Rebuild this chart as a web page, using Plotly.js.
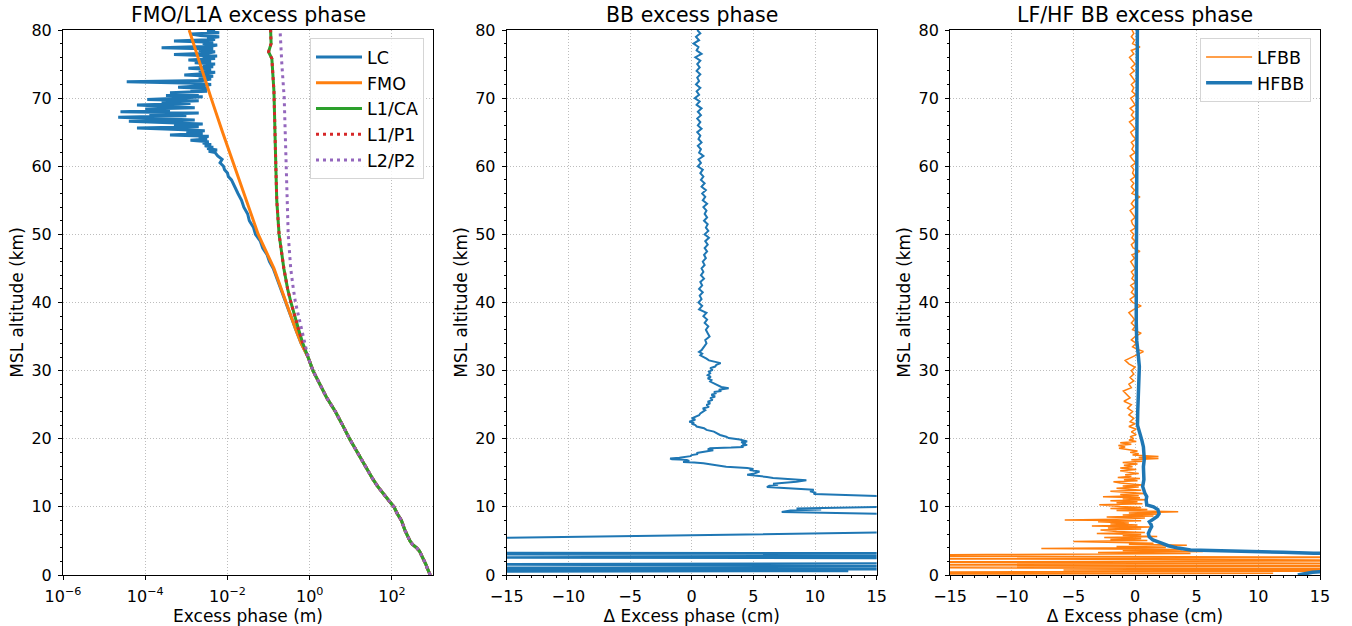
<!DOCTYPE html>
<html>
<head>
<meta charset="utf-8">
<script src="https://cdn.plot.ly/plotly-3.0.1.min.js"></script>
<style>html,body{margin:0;padding:0;background:#fff;}#chart{width:1352px;height:626px;}</style>
</head>
<body>
<div id="chart"></div>
<script>
// ---------- Panel 1: FMO/L1A excess phase (m) ----------
// common lower-atmosphere profile (all signals coincide below ~32 km)
const altLow = [0,0.5,1,1.5,2,2.5,3,3.5,4,4.5,5,5.5,6,6.5,7,8,9,10,11,12,13,14,15,16,18,20,22,24,26,28,30,32];
const phaseLow = [851,776,724,676,617,575,525,468,398,316,275,245,229,209,195,170,135,112,82,60,45,35,28,22,14,9.3,6.3,4.2,2.6,1.78,1.2,0.91];

const fmoAltHi = [34,36,38,40,42,45,50,55,60,65,70,75,80];
const fmoValHi = [0.62,0.46,0.35,0.27,0.21,0.135,0.056,0.0285,0.0145,0.0076,0.0040,0.00214,0.00117];

const l1caAltHi = [34,36,38,40,42,45,50,55,60,65,70,71,75.8,76.8,78,80];
const l1caValHi = [0.68,0.54,0.43,0.35,0.29,0.235,0.18,0.158,0.15,0.145,0.14,0.135,0.12,0.10,0.115,0.112];

const l1p1AltHi = [34,36,38,40,42,45,50,55,60,65,70,71,75.8,76.8,78,80];
const l1p1ValHi = [0.68,0.54,0.43,0.35,0.29,0.235,0.18,0.158,0.15,0.145,0.14,0.135,0.12,0.10,0.115,0.112];

const l2p2AltHi = [34,36,38,40,42,45,50,55,60,65,70,75,80];
const l2p2ValHi = [0.76,0.65,0.54,0.45,0.40,0.345,0.30,0.285,0.275,0.26,0.24,0.21,0.19];

const lcAltMid = [34,36,38,40,42,44,45,46,47,48,49,50,51,52,53,54,55,56,57,58,58.5,59,59.5,60,60.5,61,61.5];
const lcValMid = [0.62,0.46,0.35,0.26,0.20,0.15,0.13,0.105,0.092,0.072,0.063,0.048,0.043,0.034,0.031,0.025,0.022,0.018,0.0150,0.0125,0.0105,0.0100,0.0085,0.0080,0.0066,0.0074,0.0058];

const lcAltHi = [62.0,62.2,62.4,62.6,62.8,63.0,63.2,63.4,63.6,63.8,
  64.0,64.2,64.4,64.6,64.8,65.0,65.2,65.4,65.6,65.8,
  66.0,66.2,66.4,66.6,66.8,67.0,67.2,67.4,67.6,67.8,
  68.0,68.2,68.4,68.6,68.8,69.0,69.2,69.4,69.6,69.8,
  70.0,70.2,70.4,70.6,70.8,71.0,71.2,71.4,71.6,71.8,
  72.0,72.2,72.4,72.6,72.8,73.0,73.2,73.4,73.6,73.8,
  74.0,74.2,74.4,74.6,74.8,75.0,75.2,75.4,75.6,75.8,
  76.0,76.2,76.4,76.6,76.8,77.0,77.2,77.4,77.6,77.8,
  78.0,78.2,78.4,78.6,78.8,79.0,79.2,79.4,79.6,79.8,80.0];
const lcValHi = [0.0050,0.0035,0.0056,0.0032,0.0045,0.0028,0.0040,0.0025,0.0035,0.00126,
  0.0032,0.0020,0.0035,0.0004,0.0025,0.0010,0.0028,0.00063,0.000063,0.0020,
  0.0005,0.0025,0.00025,0.00004,0.0016,0.00016,0.000022,0.0010,0.000126,0.0020,
  0.000025,0.0004,0.0001,0.0016,0.0002,0.000063,0.00126,0.00025,0.0020,0.000112,
  0.00063,0.0025,0.00032,0.0020,0.0004,0.0032,0.00126,0.0035,0.00063,0.0025,
  0.0040,0.0016,0.0000355,0.0025,0.0040,0.0020,0.0045,0.00089,0.0032,0.0050,
  0.0020,0.0040,0.00112,0.0045,0.0025,0.0050,0.0016,0.0040,0.00112,0.0050,
  0.0025,0.0056,0.0005,0.0032,0.0050,0.0020,0.0045,0.00025,0.0040,0.0056,
  0.0025,0.0045,0.0005,0.0050,0.0032,0.0063,0.0022,0.00126,0.0063,0.0032,0.0050];

// ---------- Panel 2: BB excess phase difference (cm) ----------
const bbAlt = [0.45,0.55,0.70,0.85,1.05,1.30,1.55,1.80,2.45,2.55,2.80,3.10,3.20,3.30,4.50,5.35,6.35,8.50,8.90,9.25,9.45,9.60,9.75,
  10.10,11.40,11.90,12.10,12.30,12.50,12.70,12.90,13.10,13.25,13.40,13.55,13.70,13.90,14.10,14.25,14.40,14.55,14.70,14.85,15.00,15.20,15.40,15.55,15.70,15.80,15.90,
  16.10,16.25,16.40,16.50,16.60,16.75,16.90,17.00,17.10,17.20,17.30,17.45,17.60,17.75,17.90,18.10,18.30,18.45,18.60,18.70,
  18.80,18.95,19.10,19.25,19.40,19.50,19.60,19.75,19.90,20.10,20.30,20.55,20.80,21.05,21.30,21.55,21.80,22.00,22.20,22.35,
  22.50,22.65,22.80,23.00,23.20,23.45,23.70,23.95,24.20,24.45,24.70,24.95,25.20,25.45,25.70,25.95,26.20,26.45,26.70,26.85,
  27.00,27.20,27.40,27.60,27.80,28.00,28.20,28.40,28.60,28.85,29.10,29.35,29.60,29.85,30.10,30.35,30.60,30.85,31.10,31.30,
  31.50,31.75,32.00,32.25,32.50,32.75,
  33.0,33.5,34.0,34.5,35.0,35.5,36.0,36.5,37.0,37.5,38.0,38.5,39.0,39.5,40.0,40.5,41.0,41.5,42.0,42.5,
  43.0,43.5,44.0,44.5,45.0,45.5,46.0,46.5,47.0,47.5,48.0,48.5,49.0,49.5,50.0,50.5,51.0,51.5,52.0,52.5,
  53.0,53.5,54.0,54.5,55.0,55.5,56.0,56.5,57.0,57.5,58.0,58.5,59.0,59.5,60.0,60.5,61.0,61.5,62.0,62.5,
  63.0,63.5,64.0,64.5,65.0,65.5,66.0,66.5,67.0,67.5,68.0,68.5,69.0,69.5,70.0,70.5,71.0,71.5,72.0,72.5,
  73.0,73.5,74.0,74.5,75.0,75.5,76.0,76.5,77.0,77.5,78.0,78.5,79.0,79.5,80.0];
const bbVal = [-30,12.7,-30,30,-30,30,-30,30,30,-30,30,-30,30,-30,-30,-20,20,25,18,7.3,8.0,10.5,8.5,
  18,18,9.9,10.0,9.6,9.9,7.7,6.1,6.3,7.0,6.6,7.8,8.5,9.3,7.4,6.6,6.1,5.0,4.5,5.0,5.2,5.5,4.7,5.0,4.5,3.5,2.8,
  2.0,1.5,0.95,0.2,-0.7,-0.2,-0.4,-1.6,-1.75,-1.0,-0.7,-0.1,0.0,0.5,0.4,1.2,1.75,1.3,1.5,3.2,
  4.2,4.0,4.5,4.1,4.4,4.0,4.5,4.2,3.9,3.0,2.8,2.3,2.0,1.8,1.2,1.0,0.4,0.3,0.0,0.2,
  -0.2,0.1,0.3,0.0,0.3,0.6,0.7,0.9,1.1,0.9,1.4,1.2,1.5,1.3,1.7,1.5,1.9,1.6,2.0,1.8,
  2.4,2.2,3.0,2.4,2.2,2.0,1.8,1.5,1.6,1.3,1.55,1.3,1.5,1.4,1.7,1.5,1.9,2.0,2.35,1.8,
  1.4,1.2,1.0,0.7,0.85,0.6,
  0.8,1.0,1.2,1.1,1.45,1.3,1.15,1.35,1.05,1.25,0.95,1.2,0.6,0.85,0.55,0.8,0.65,0.9,0.6,0.85,
  0.7,1.0,0.75,0.95,0.8,1.05,0.9,1.15,1.0,1.25,1.05,1.3,1.1,1.4,1.05,1.35,1.15,1.3,1.0,1.25,
  1.05,1.2,0.95,1.25,0.9,1.1,0.85,1.15,0.8,1.05,0.75,0.95,0.7,0.9,0.5,0.75,0.55,0.95,0.6,0.75,
  0.5,0.8,0.55,0.7,0.45,0.8,0.5,0.7,0.45,0.75,0.5,0.8,0.4,0.65,0.25,0.6,0.4,0.7,0.35,0.6,
  0.45,0.7,0.4,0.65,0.45,0.7,0.3,0.8,0.4,0.55,0.15,0.6,0.35,0.7,0.45];

// ---------- Panel 3: LF/HF BB excess phase difference (cm) ----------
const lfAlt = [0.10,0.25,0.40,0.60,0.75,0.90,1.10,1.30,1.50,1.70,1.90,2.10,2.25,2.40,2.60,2.80,
  3.00,3.15,3.30,3.45,3.60,3.75,3.90,4.05,4.20,4.35,4.50,4.65,4.90,5.05,5.20,
  5.35,5.50,5.65,5.80,5.95,6.10,6.25,6.40,6.60,6.75,6.90,7.05,7.20,7.35,7.50,7.65,7.80,7.95,8.07,8.20,
  8.35,8.50,8.65,8.80,8.95,9.10,9.30,9.45,9.60,9.75,9.90,10.05,10.30,10.45,10.60,10.75,10.90,11.05,11.20,11.35,
  11.50,11.65,11.80,11.95,12.10,12.30,12.45,12.60,12.75,12.90,13.05,13.20,13.35,13.50,13.70,13.85,14.00,14.15,14.30,14.50,
  14.70,14.90,15.10,15.30,15.50,15.70,15.90,16.10,16.30,16.50,16.70,16.90,17.10,17.25,17.40,17.60,17.80,18.00,18.20,18.40,
  18.60,18.80,19.00,19.20,19.40,19.60,19.80,20.00,20.30,20.60,21.00,21.40,21.80,22.20,22.50,23.00,23.50,24.00,24.50,25.00,
  25.50,26.00,26.50,27.00,27.50,28.00,28.50,29.00,29.50,30.00,30.50,31.00,31.50,32.00,32.50,32.80,33.20,33.50,34.00,34.50,
  35.0,35.5,36.0,36.5,37.0,37.5,38.0,38.5,39.0,39.5,40.0,40.5,41.0,41.5,42.0,42.5,43.0,43.5,44.0,44.5,
  45.0,45.5,46.0,46.5,47.0,47.5,48.0,48.5,49.0,49.5,50.0,50.5,51.0,51.5,52.0,52.5,53.0,53.5,54.0,54.5,
  55.0,55.5,56.0,56.5,57.0,57.5,58.0,58.5,59.0,59.5,60.0,60.5,61.0,61.5,62.0,62.5,63.0,63.5,64.0,64.5,
  65.0,65.5,66.0,66.5,67.0,67.5,68.0,68.5,69.0,69.5,70.0,70.5,71.0,71.5,72.0,72.5,73.0,73.5,74.0,74.5,
  75.0,75.5,76.0,76.5,77.0,77.5,78.0,78.5,79.0,79.5,80.0];
const lfVal = [-25,11.2,-25,25,-5.8,25,-25,25,-25,25,-25,25,8.5,-25,25,-25,
  -12,4.5,-3,5.5,-1,3.8,-7.6,2.5,-1.5,4.2,-0.5,1.5,-5.0,1.0,-2.0,
  0.5,-2.5,1.8,-1.0,0.5,-3.1,0.8,-1.5,-2.8,0.5,-2.2,1.2,-3.5,0.2,-2.0,-0.5,-3.0,0.5,-5.7,-1.5,
  0.8,-2.3,1.5,-1.0,2.0,-0.5,3.5,-1.5,1.0,-2.0,0.5,-1.2,-2.9,0.6,-1.5,0.2,-2.0,0.9,-1.0,0.4,
  -2.6,0.3,-1.2,0.8,-0.8,-2.0,0.5,-0.5,-1.5,0.3,-1.0,0.6,-0.6,-1.2,-1.75,0.2,-0.9,0.4,-1.4,-0.3,
  -0.8,0.3,-0.6,-1.2,0.1,-1.2,-0.2,-0.9,0.2,-1.0,0.6,-0.3,1.9,0.3,1.9,-0.2,0.3,-0.4,0.2,-0.6,
  -1.3,-0.8,-1.35,-0.3,-1.2,0.1,-0.5,-0.1,-0.4,0.1,-0.3,0.1,-0.5,0.0,-0.4,-0.1,-0.5,-0.2,-0.6,-0.3,
  -0.9,-0.4,-0.7,-0.95,-0.3,-0.5,-0.1,-0.4,-0.1,-0.3,0.0,-0.5,-0.8,-0.2,0.3,0.68,0.1,-0.2,0.1,-0.3,
  0.0,0.5,-0.2,0.0,-0.3,-0.05,-0.25,-0.5,-0.1,0.5,-0.2,-0.4,0.0,-0.3,-0.1,-0.35,0.05,-0.25,-0.1,-0.3,
  0.0,-0.2,-0.35,-0.05,-0.25,0.4,-0.15,-0.3,0.0,-0.25,-0.1,-0.35,0.05,-0.2,-0.3,0.0,-0.2,-0.4,-0.05,-0.3,
  -0.1,0.4,-0.25,-0.05,-0.3,-0.1,-0.35,0.0,-0.2,-0.1,-0.3,0.05,-0.2,-0.4,0.0,-0.25,-0.1,-0.3,0.05,-0.2,
  -0.35,0.0,-0.2,-0.45,-0.05,-0.3,-0.1,-0.4,0.0,-0.2,-0.35,0.05,-0.25,-0.1,-0.3,0.0,-0.2,-0.4,-0.05,-0.3,
  0.0,-0.25,-0.45,-0.1,-0.3,0.4,-0.2,-0.05,-0.3,-0.1,-0.25];

const hfAlt = [0.0,0.2,0.4,0.55,0.8,2.8,3.1,3.2,3.33,3.45,3.57,3.67,3.95,4.3,4.7,5.14,5.6,6.1,6.6,7.1,
  7.4,7.8,8.1,8.6,9.0,9.6,10.0,10.3,11.0,11.5,12.0,13.0,14.0,15.0,15.9,17.0,17.9,18.8,19.8,20.8,
  22.0,24.0,25.7,28.0,30.6,32.5,34.4,37.0,40.4,45,50,55,60,65,70,75,80];
const hfVal = [13.2,13.9,14.4,15.5,30,30,15.5,14.5,12.0,10.0,8.0,4.5,3.5,2.7,2.1,1.45,1.15,1.08,1.2,1.35,
  1.3,1.16,1.4,1.8,1.95,1.85,1.5,0.95,0.9,0.95,0.8,0.62,0.72,0.7,0.68,0.75,0.73,0.68,0.55,0.4,
  0.2,0.22,0.27,0.33,0.35,0.25,0.14,0.1,0.08,0.1,0.12,0.14,0.15,0.16,0.17,0.18,0.19];

const C = {blue:'#1f77b4', orange:'#ff7f0e', green:'#2ca02c', red:'#d62728', purple:'#9467bd'};
const FONT = 'DejaVu Sans, Liberation Sans, sans-serif';

const traces = [
  {x: phaseLow.concat(lcValMid, lcValHi), y: altLow.concat(lcAltMid, lcAltHi), name:'LC', mode:'lines',
   line:{color:C.blue, width:3}, xaxis:'x', yaxis:'y', legend:'legend'},
  {x: phaseLow.concat(fmoValHi), y: altLow.concat(fmoAltHi), name:'FMO', mode:'lines',
   line:{color:C.orange, width:3}, xaxis:'x', yaxis:'y', legend:'legend'},
  {x: phaseLow.concat(l1caValHi), y: altLow.concat(l1caAltHi), name:'L1/CA', mode:'lines',
   line:{color:C.green, width:3}, xaxis:'x', yaxis:'y', legend:'legend'},
  {x: phaseLow.concat(l1p1ValHi), y: altLow.concat(l1p1AltHi), name:'L1/P1', mode:'lines',
   line:{color:C.red, width:3, dash:'3px,4px'}, xaxis:'x', yaxis:'y', legend:'legend'},
  {x: phaseLow.concat(l2p2ValHi), y: altLow.concat(l2p2AltHi), name:'L2/P2', mode:'lines',
   line:{color:C.purple, width:3, dash:'3px,4px'}, xaxis:'x', yaxis:'y', legend:'legend'},
  {x: bbVal, y: bbAlt, name:'BB', mode:'lines', showlegend:false,
   line:{color:C.blue, width:2}, xaxis:'x2', yaxis:'y2'},
  {x: lfVal, y: lfAlt, name:'LFBB', mode:'lines',
   line:{color:C.orange, width:1.5}, xaxis:'x3', yaxis:'y3', legend:'legend2'},
  {x: hfVal, y: hfAlt, name:'HFBB', mode:'lines',
   line:{color:C.blue, width:3.5}, xaxis:'x3', yaxis:'y3', legend:'legend2'}
];

const tickFont = {family:FONT, size:16, color:'#000'};
const titleFont = {family:FONT, size:17, color:'#000'};
const common = {
  showline:true, linecolor:'#000', linewidth:1, mirror:true,
  ticks:'outside', ticklen:4, tickwidth:1, tickcolor:'#000',
  showgrid:true, gridcolor:'#bdbdbd', griddash:'1px,2px', gridwidth:1,
  zeroline:false, tickfont:tickFont, ticklabelstandoff:3
};
function yax(anchor){
  return Object.assign({}, common, {
    anchor:anchor, domain:[0,1], range:[0,80], dtick:10, tick0:0, fixedrange:true,
    minor:{dtick:2, ticklen:2, ticks:'outside', tickcolor:'#000', showgrid:false},
    title:{text:'MSL altitude (km)', font:titleFont, standoff:3}
  });
}
function xlin(anchor, dom){
  return Object.assign({}, common, {
    anchor:anchor, domain:dom, range:[-15,15], dtick:5, tick0:0,
    minor:{dtick:1, ticklen:2, ticks:'outside', tickcolor:'#000', showgrid:false},
    title:{text:'Δ Excess phase (cm)', font:titleFont, standoff:6}
  });
}
const logTicks = [1e-6,1e-4,1e-2,1,100];
const logText = ['10<sup>−6</sup>','10<sup>−4</sup>','10<sup>−2</sup>','10<sup>0</sup>','10<sup>2</sup>'];

const legendStyle = {xanchor:'left', yanchor:'top', bgcolor:'rgba(255,255,255,0.8)',
  bordercolor:'#d5d5d5', borderwidth:1, itemwidth:46, font:{family:FONT, size:17.5, color:'#000'}};

const layout = {
  width:1352, height:626,
  margin:{l:63, r:32, t:30, b:51},
  paper_bgcolor:'#fff', plot_bgcolor:'#fff',
  font:{family:FONT, color:'#000'},
  showlegend:true,
  xaxis: Object.assign({}, common, {
    anchor:'y', domain:[0,0.2944], type:'log', range:[-6,3],
    tickmode:'array', tickvals:logTicks, ticktext:logText,
    title:{text:'Excess phase (m)', font:titleFont, standoff:6}
  }),
  yaxis: yax('x'),
  xaxis2: xlin('y2',[0.3530,0.6473]),
  yaxis2: yax('x2'),
  xaxis3: xlin('y3',[0.7057,1]),
  yaxis3: yax('x3'),
  legend: Object.assign({x:0.1965, y:0.985}, legendStyle),
  legend2: Object.assign({x:0.9046, y:0.985}, legendStyle),
  annotations:[
    {text:'FMO/L1A excess phase', xref:'x domain', yref:'y domain', x:0.5, y:1, xanchor:'center', yanchor:'middle', yshift:15, showarrow:false, font:{family:FONT, size:20.5, color:'#000'}},
    {text:'BB excess phase', xref:'x2 domain', yref:'y2 domain', x:0.5, y:1, xanchor:'center', yanchor:'middle', yshift:15, showarrow:false, font:{family:FONT, size:20.5, color:'#000'}},
    {text:'LF/HF BB excess phase', xref:'x3 domain', yref:'y3 domain', x:0.5, y:1, xanchor:'center', yanchor:'middle', yshift:15, showarrow:false, font:{family:FONT, size:20.5, color:'#000'}}
  ]
};

Plotly.newPlot('chart', traces, layout, {staticPlot:true, displayModeBar:false});
</script>
</body>
</html>
